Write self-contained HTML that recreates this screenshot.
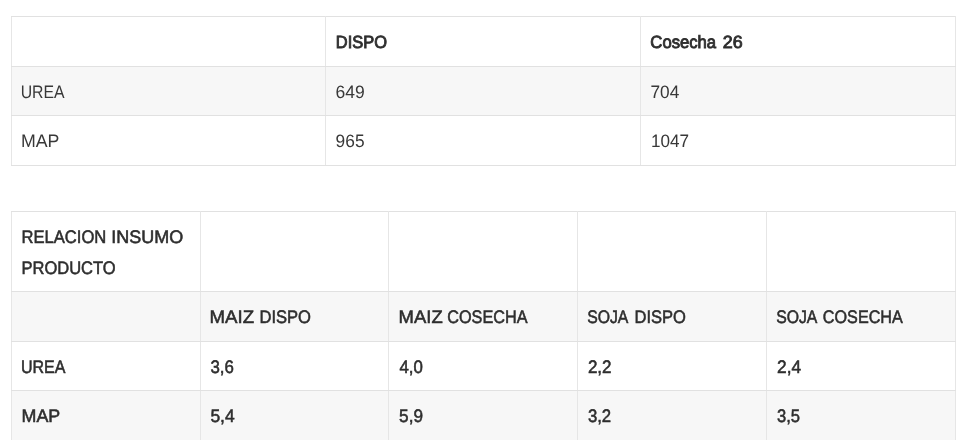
<!DOCTYPE html>
<html lang="es"><head><meta charset="utf-8"><title>Tablas</title>
<style>
html,body{margin:0;padding:0;background:#fff;}
body{width:971px;height:440px;overflow:hidden;position:relative;font-family:"Liberation Sans","DejaVu Sans",sans-serif;color:#2e2e2e;}
table{border-collapse:collapse;table-layout:fixed;position:absolute;left:11px;width:945px;}
td{border-style:solid;border-width:1px;border-color:#e1e1e1 #e6e6e6;padding:0 0 0 9px;font-size:17.6px;line-height:30px;vertical-align:middle;white-space:nowrap;overflow:visible;}
#t1{top:16px;}
#t2{top:211px;}
tr.alt td{background:#f7f7f7;}
.s{display:inline-block;transform-origin:0 70%;white-space:nowrap;text-rendering:geometricPrecision;}
.h{-webkit-text-stroke:0.9px #2e2e2e;font-size:17.7px;}
.r{font-size:18px;color:#383838;}
.m{-webkit-text-stroke:0.55px #2e2e2e;font-size:18.1px;}
</style></head><body>
<table id="t1">
<colgroup><col style="width:314px"><col style="width:315px"><col style="width:315px"></colgroup>
<tr style="height:50px"><td></td><td><span class="s h" id="a1" style="transform:translate(0.87px,0.00px) scaleX(0.9291)">DISPO</span></td><td><span class="s h" id="a2" style="transform:translate(0.36px,0.00px) scaleX(0.9412)">Cosecha</span> <span class="s h" id="a3" style="transform:translate(-2.29px,0.00px) scaleX(1.0085)">26</span></td></tr>
<tr class="alt" style="height:49px"><td><span class="s r" id="b0" style="transform:translate(-0.30px,1.00px) scaleX(0.8775)">UREA</span></td><td><span class="s r" id="b1" style="transform:translate(0.39px,1.00px) scaleX(0.9735)">649</span></td><td><span class="s r" id="b2" style="transform:translate(0.48px,1.00px) scaleX(0.9580)">704</span></td></tr>
<tr style="height:50px"><td><span class="s r" id="c0" style="transform:translate(0.00px,0.00px) scaleX(0.9852)">MAP</span></td><td><span class="s r" id="c1" style="transform:translate(0.62px,0.00px) scaleX(0.9631)">965</span></td><td><span class="s r" id="c2" style="transform:translate(0.93px,0.00px) scaleX(0.9515)">1047</span></td></tr>
</table>
<table id="t2">
<colgroup><col style="width:189px"><col style="width:188px"><col style="width:189px"><col style="width:189px"><col style="width:189px"></colgroup>
<tr style="height:80px"><td><span class="s m" id="d0" style="transform:translate(0.48px,0.00px) scaleX(0.9171)">RELACION</span> <span class="s m" id="d2" style="transform:translate(-6.74px,0.00px) scaleX(0.9943)">INSUMO</span><br><span class="s m" id="d1" style="transform:translate(0.45px,1.00px) scaleX(0.9131)">PRODUCTO</span></td><td></td><td></td><td></td><td></td></tr>
<tr class="alt" style="height:50px"><td></td><td><span class="s m" id="e1" style="transform:translate(-0.54px,0.00px) scaleX(1.0313)">MAIZ</span> <span class="s m" id="e1b" style="transform:translate(1.42px,0.00px) scaleX(0.9161)">DISPO</span></td><td><span class="s m" id="e2" style="transform:translate(0.61px,0.00px) scaleX(1.0199)">MAIZ</span> <span class="s m" id="e2b" style="transform:translate(1.21px,0.00px) scaleX(0.8975)">COSECHA</span></td><td><span class="s m" id="e3" style="transform:translate(0.13px,0.00px) scaleX(0.8729)">SOJA</span> <span class="s m" id="e3b" style="transform:translate(-4.55px,0.00px) scaleX(0.9140)">DISPO</span></td><td><span class="s m" id="e4" style="transform:translate(0.13px,0.00px) scaleX(0.8729)">SOJA</span> <span class="s m" id="e4b" style="transform:translate(-5.14px,0.00px) scaleX(0.8931)">COSECHA</span></td></tr>
<tr style="height:49px"><td><span class="s m" id="f0" style="transform:translate(-0.12px,1.00px) scaleX(0.8843)">UREA</span></td><td><span class="s m" id="f1" style="transform:translate(0.41px,1.00px) scaleX(0.9309)">3,6</span></td><td><span class="s m" id="f2" style="transform:translate(1.38px,1.00px) scaleX(0.9297)">4,0</span></td><td><span class="s m" id="f3" style="transform:translate(0.88px,1.00px) scaleX(0.9426)">2,2</span></td><td><span class="s m" id="f4" style="transform:translate(1.00px,1.00px) scaleX(0.9574)">2,4</span></td></tr>
<tr class="alt" style="height:50px"><td><span class="s m" id="g0" style="transform:translate(0.51px,0.00px) scaleX(0.9868)">MAP</span></td><td><span class="s m" id="g1" style="transform:translate(0.38px,0.00px) scaleX(0.9639)">5,4</span></td><td><span class="s m" id="g2" style="transform:translate(1.10px,0.00px) scaleX(0.9506)">5,9</span></td><td><span class="s m" id="g3" style="transform:translate(0.90px,0.00px) scaleX(0.9255)">3,2</span></td><td><span class="s m" id="g4" style="transform:translate(1.03px,0.00px) scaleX(0.9165)">3,5</span></td></tr>
</table>
</body></html>
